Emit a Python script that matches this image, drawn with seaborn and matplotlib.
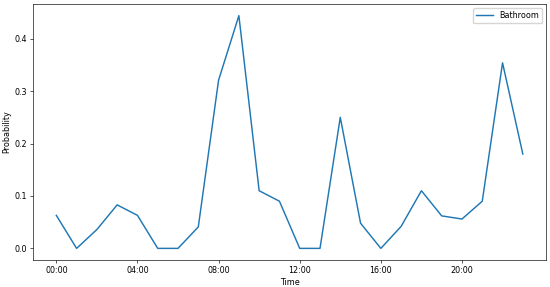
import pandas as pd
import matplotlib
matplotlib.use("Agg")
import matplotlib.pyplot as plt
import seaborn as sns

# hourly probability of bathroom activity
hours = list(range(24))
probability = [0.063, 0.0, 0.036, 0.083, 0.063, 0.0, 0.0, 0.041,
               0.321, 0.444, 0.110, 0.090, 0.0, 0.0, 0.250, 0.048,
               0.0, 0.042, 0.110, 0.062, 0.056, 0.090, 0.354, 0.180]
tick_hours = [0, 4, 8, 12, 16, 20]
tick_labels = ["00:00", "04:00", "08:00", "12:00", "16:00", "20:00"]

df = pd.DataFrame({"hour": hours, "Bathroom": probability})

# figure looks like a scaled-down default matplotlib plot
scale = 0.58
plt.rcParams.update({
    "font.size": 10 * scale,
    "axes.linewidth": 0.8 * scale,
    "xtick.major.size": 3.5 * scale,
    "ytick.major.size": 3.5 * scale,
    "xtick.major.width": 0.8 * scale,
    "ytick.major.width": 0.8 * scale,
    "xtick.major.pad": 3.5 * scale,
    "ytick.major.pad": 3.5 * scale,
    "legend.frameon": True,
})

fig, ax = plt.subplots(figsize=(5.5, 2.87), dpi=100)
fig.subplots_adjust(left=0.06, right=0.993, top=0.986, bottom=0.094)

sns.lineplot(data=df, x="hour", y="Bathroom", ax=ax, label="Bathroom",
             color="#1f77b4", linewidth=1.5 * scale * 1.2)

ax.set_xticks(tick_hours)
ax.set_xticklabels(tick_labels)
ax.set_yticks([0.0, 0.1, 0.2, 0.3, 0.4])
ax.set_xlabel("Time", labelpad=4 * scale)
ax.set_ylabel("Probability", labelpad=4 * scale)
ax.legend(loc="upper right")

fig.savefig("out.png", dpi=100)
